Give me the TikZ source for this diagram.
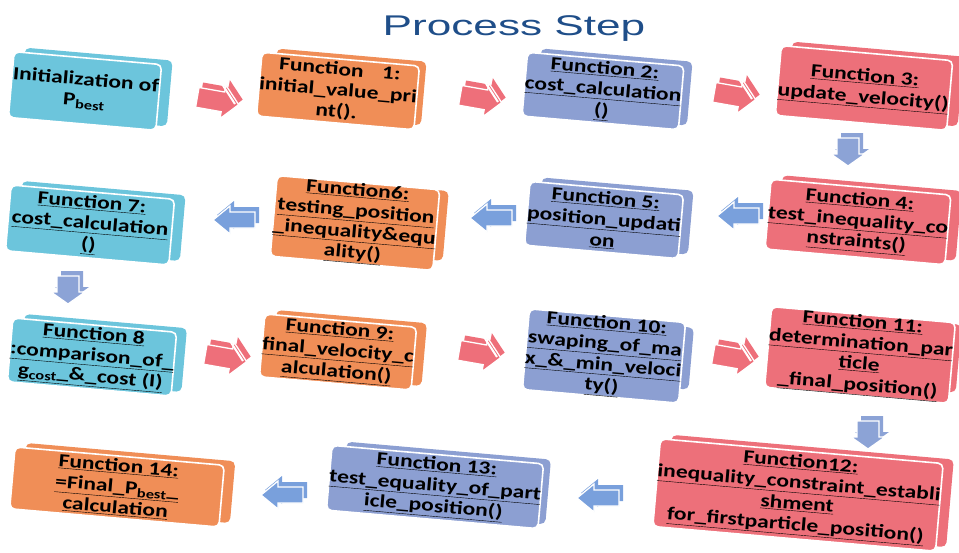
\documentclass[tikz,border=0pt]{standalone}
\usepackage{fontspec}
\setmainfont{Carlito}[FakeStretch=1.27]
\newfontfamily\titlefont{Liberation Sans}[FakeStretch=1.55]
\usetikzlibrary{calc}
\definecolor{boxcyan}{HTML}{6CC5DC}
\definecolor{boxorange}{HTML}{F08E57}
\definecolor{boxblue}{HTML}{8C9FD2}
\definecolor{boxred}{HTML}{ED707A}
\definecolor{arrpink}{HTML}{EE6F7A}
\definecolor{arrblue}{HTML}{79A0DC}
\definecolor{arrdown}{HTML}{8CA3D6}
\definecolor{titleblue}{HTML}{1F4E89}
\newcommand{\ul}[1]{\underline{#1}}
\newcommand{\blk}[7]{%
  \node[blkback, fill=#6, minimum width=#4pt, minimum height=#5pt] (#1back) at ($(#2,#3)+(11,-4)$) {};
  \node[blkfront, fill=#6, minimum width=#4pt, minimum height=#5pt] (#1) at (#2,#3) {#7};
}
% name, x, y, rotation, colour, length, shaft half width, head half width, head length
\newcommand{\barrow}[9]{%
  \coordinate (#1) at (#2,#3);
  \begin{scope}[shift={($(#1)+(4,-5)$)}, rotate=#4]
    \fill[#5] ({-#6/2},-#7) -- ({#6/2-#9},-#7) -- ({#6/2-#9},-#8) -- ({#6/2},0)
      -- ({#6/2-#9},#8) -- ({#6/2-#9},#7) -- ({-#6/2},#7) -- cycle;
  \end{scope}
  \begin{scope}[shift={(#1)}, rotate=#4]
    \filldraw[fill=#5, draw=white, line width=1.3pt, line join=miter] ({-#6/2},-#7) -- ({#6/2-#9},-#7) -- ({#6/2-#9},-#8) -- ({#6/2},0)
      -- ({#6/2-#9},#8) -- ({#6/2-#9},#7) -- ({-#6/2},#7) -- cycle;
  \end{scope}
}
\tikzset{
  blkback/.style={draw=none, rounded corners=5pt, rotate=-5, inner sep=0pt},
  blkfront/.style={draw=white, line width=1.6pt, rounded corners=5pt, rotate=-5,
    align=center, inner sep=0pt, text=black,
    font=\bfseries\fontsize{18.5}{21}\selectfont},
  cut/.style={draw=white, line width=2pt}
}
\begin{document}
\begin{tikzpicture}[x=1pt,y=-1pt]
\useasboundingbox (0,0) rectangle (959,552);
\node[font=\titlefont\fontsize{28.5}{30}\selectfont, text=titleblue, anchor=base] (title) at (514,35) {Process Step};

\blk{bA}{85}{91}{148}{66}{boxcyan}{Initialization of\\P\textsubscript{best}}
\blk{b1}{338}{91}{150}{64}{boxorange}{Function\quad 1:\\initial\_value\_pri\\nt().}
\blk{b2}{603}{91}{152}{64}{boxblue}{\ul{Function 2:}\\\ul{cost\_calculation}\\\ul{()}}
\blk{b3}{864}{88}{172}{70}{boxred}{\ul{Function 3:}\\\ul{update\_velocity()}}
\blk{b4}{858}{222}{180}{70}{boxred}{\ul{Function 4:}\\\ul{test\_inequality\_co}\\\ul{nstraints()}}
\blk{b5}{604}{220}{152}{64}{boxblue}{\ul{Function 5:}\\\ul{position\_updati}\\\ul{on}}
\blk{b6}{355}{223}{160}{70}{boxorange}{\ul{Function6:}\\\ul{testing\_position}\\\ul{\_inequality\&equ}\\\ul{ality()}}
\blk{b7}{90}{225}{164}{66}{boxcyan}{\ul{Function 7:}\\\ul{cost\_calculation}\\\ul{()}}
\blk{b8}{92}{357}{163}{64}{boxcyan}{\ul{Function 8}\\\ul{:comparison\_of\_}\\\ul{g\textsubscript{cost}\_\&\_cost (I)}}
\blk{b9}{338}{352}{151}{63}{boxorange}{\ul{Function 9:}\\\ul{final\_velocity\_c}\\\ul{alculation()}}
\blk{b10}{604}{356}{153}{62}{boxblue}{\ul{Function 10:}\\\ul{swaping\_of\_ma}\\\ul{x\_\&\_min\_veloci}\\\ul{ty()}}
\blk{b11}{860}{355}{176}{68}{boxred}{\ul{Function 11:}\\\ul{determination\_par}\\\ul{ticle}\\\ul{\_final\_position()}}
\blk{b12}{798}{495}{283}{88}{boxred}{\ul{Function12:}\\\ul{inequality\_constraint\_establi}\\\ul{shment}\\\ul{for\_firstparticle\_position()}}
\blk{b13}{435}{487}{205}{65}{boxblue}{\ul{Function 13:}\\\ul{test\_equality\_of\_part}\\\ul{icle\_position()}}
\blk{b14}{117}{487}{210}{62}{boxorange}{\ul{Function 14:}\\\ul{=Final\_P\textsubscript{best}\_}\\\ul{calculation}}

% row 1 arrows (right, pink)
\barrow{aA1}{218}{101}{-10}{arrpink}{42}{10}{17}{16}
\barrow{a12}{481}{99}{-10}{arrpink}{42}{10}{17}{16}
\barrow{a23}{735}{96}{-10}{arrpink}{42}{10}{17}{16}
\foreach \a in {aA1,a12,a23}{\draw[cut] ($(\a)+(4,-17)$) -- ($(\a)+(17,3)$);}
\barrow{a34}{848}{152}{-90}{arrdown}{28}{11}{17}{12}
% row 2 arrows (left, blue)
\barrow{a45}{738}{216}{180}{arrblue}{42}{8}{14}{17}
\barrow{a56}{491}{218}{180}{arrblue}{42}{8}{14}{17}
\barrow{a67}{234}{220}{180}{arrblue}{42}{8}{14}{17}
\barrow{a78}{68}{290}{-90}{arrdown}{28}{11}{17}{12}
% row 3 arrows (right, pink)
\barrow{a89}{226}{358}{-10}{arrpink}{42}{10}{17}{16}
\barrow{a910}{480}{354}{-10}{arrpink}{42}{10}{17}{16}
\barrow{a1011}{734}{358}{-10}{arrpink}{42}{10}{17}{16}
\foreach \a in {a89,a910,a1011}{\draw[cut] ($(\a)+(4,-17)$) -- ($(\a)+(17,3)$);}
\barrow{a1112}{868}{435}{-90}{arrdown}{28}{11}{17}{12}
% row 4 arrows (left, blue)
\barrow{a1213}{598}{498}{180}{arrblue}{42}{8}{14}{17}
\barrow{a1314}{282}{495}{180}{arrblue}{42}{8}{14}{17}
\end{tikzpicture}
\end{document}
